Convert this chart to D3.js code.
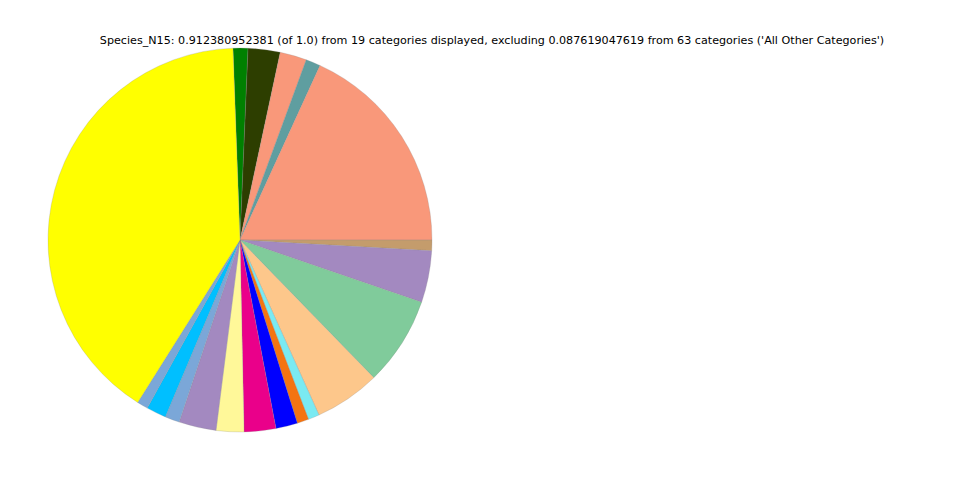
<!DOCTYPE html>
<html><head><meta charset="utf-8">
<script src="https://cdn.jsdelivr.net/npm/d3@7"></script>
<style>body{margin:0;background:#fff}</style>
</head><body>
<svg id="c" width="960" height="480"></svg>
<script>
const titleText = "Species_N15: 0.912380952381 (of 1.0) from 19 categories displayed, excluding 0.087619047619 from 63 categories ('All Other Categories')";
const categories = ["c1","c2","c3","c4","c5","c6","c7","c8","c9","c10","c11","c12","c13","c14","c15","c16","c17","c18","c19"];
const values = [0.0114,0.0246,0.0205,0.0112,0.1658,0.0081,0.0398,0.0682,0.0504,0.0086,0.0089,0.0167,0.0243,0.0213,0.0286,0.0112,0.0152,0.0084,0.3693];
const colors = ["#008000","#2d3e00","#f9987a","#5f9ea0","#f9987a","#c49c6c","#a389c0","#80cb9b","#fdc78b","#7aeaf2","#f47412","#0000ff","#ea008a","#fff899","#a389c0","#7ba7d8","#00bfff","#7ba7d8","#ffff00"];

const svg = d3.select("#c");
svg.append("text").attr("x", 492).attr("y", 44).attr("text-anchor","middle")
  .attr("font-family","DejaVu Sans").attr("font-size", 11.15).attr("fill","#000").text(titleText);

const cx = 240, cy = 240, r = 192;
const start = -2.1 * Math.PI / 180;
const pie = d3.pie().sort(null).value(d => d.v).startAngle(start).endAngle(start + 2*Math.PI);
const data = categories.map((c,i) => ({c, v: values[i], col: colors[i]}));
const arc = d3.arc().innerRadius(0).outerRadius(r);
const g = svg.append("g").attr("transform", `translate(${cx},${cy})`);
g.selectAll("path").data(pie(data)).join("path")
  .attr("d", arc).attr("fill", d => d.data.col)
  .attr("stroke", "#888").attr("stroke-width", 0.4).attr("stroke-opacity", 0.6);
</script>
</body></html>
